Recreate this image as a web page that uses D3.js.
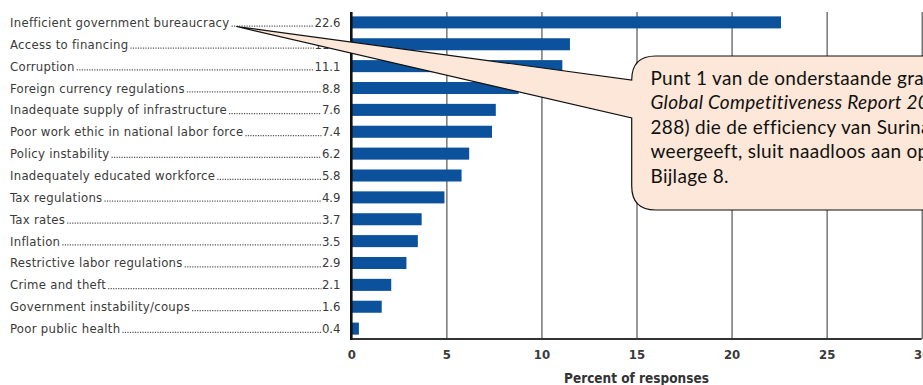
<!DOCTYPE html>
<html><head><meta charset="utf-8">
<script src="https://cdn.jsdelivr.net/npm/d3@7/dist/d3.min.js"></script>
<style>
html,body{margin:0;padding:0;background:#fff;}
svg{display:block;}
</style></head>
<body>
<svg id="chart" width="923" height="385"></svg>
<script>
const categories = [
  "Inefficient government bureaucracy",
  "Access to financing",
  "Corruption",
  "Foreign currency regulations",
  "Inadequate supply of infrastructure",
  "Poor work ethic in national labor force",
  "Policy instability",
  "Inadequately educated workforce",
  "Tax regulations",
  "Tax rates",
  "Inflation",
  "Restrictive labor regulations",
  "Crime and theft",
  "Government instability/coups",
  "Poor public health"
];
const values = [22.6, 11.5, 11.1, 8.8, 7.6, 7.4, 6.2, 5.8, 4.9, 3.7, 3.5, 2.9, 2.1, 1.6, 0.4];
const xTicks = [0, 5, 10, 15, 20, 25, 30];
const axisTitle = "Percent of responses";
const calloutLines = [
  {text: "Punt 1 van de onderstaande grafiek uit het", italic: false},
  {text: "Global Competitiveness Report 2012-2013 (p.", italic: true},
  {text: "288) die de efficiency van Suriname", italic: false},
  {text: "weergeeft, sluit naadloos aan op", italic: false},
  {text: "Bijlage 8.", italic: false}
];

const svg = d3.select("#chart");
const labelFont = "'Liberation Sans Narrow','DejaVu Sans Condensed','Roboto Condensed',sans-serif";

const x = d3.scaleLinear().domain([0, 30]).range([351.3, 921.7]);
const y = d3.scaleBand().domain(categories).range([12, 339]).paddingInner(0.45).paddingOuter(0.2);

// gridlines + tick labels
const axis = d3.axisBottom(x).tickValues(xTicks).tickSize(-(339 - 12)).tickFormat(d3.format("d"));
const gAxis = svg.append("g").attr("transform", "translate(0,339)").call(axis);
gAxis.select(".domain").remove();
gAxis.selectAll(".tick line").attr("stroke", "#555").attr("stroke-width", 1.2)
  .filter(d => d === 0).remove();
gAxis.selectAll(".tick text")
  .attr("y", 11).attr("dy", "0.71em")
  .attr("fill", "#3a3a3a")
  .style("font-family", labelFont).style("font-size", "13px").style("font-weight", "bold");

// bars
svg.append("g").selectAll("rect").data(values).join("rect")
  .attr("x", x(0))
  .attr("y", (d, i) => y(categories[i]))
  .attr("width", d => x(d) - x(0))
  .attr("height", y.bandwidth())
  .attr("fill", "#0b519c");

// axis lines
svg.append("line").attr("x1", x(0) - 0.5).attr("x2", x(30)).attr("y1", 339).attr("y2", 339)
  .attr("stroke", "#333").attr("stroke-width", 2);
svg.append("line").attr("x1", x(0)).attr("x2", x(0)).attr("y1", 12).attr("y2", 340)
  .attr("stroke", "#111").attr("stroke-width", 2.6);

// axis title
svg.append("text").attr("x", (x(0) + x(30)) / 2).attr("y", 383)
  .attr("text-anchor", "middle").attr("fill", "#333")
  .style("font-family", labelFont).style("font-size", "13.5px").style("font-weight", "bold")
  .text(axisTitle);

// labels with leader dots
const rows = svg.append("g").selectAll("g").data(categories).join("g")
  .attr("transform", d => `translate(0,${y(d) + y.bandwidth() / 2 + 4.5})`);
rows.append("text").attr("class", "lab").attr("x", 10)
  .attr("fill", "#3a3a3a")
  .style("font-family", labelFont).style("font-size", "13px").style("letter-spacing", "0.28px")
  .text(d => d);
rows.append("text").attr("class", "val").attr("x", 340.5).attr("text-anchor", "end")
  .attr("fill", "#3a3a3a")
  .style("font-family", labelFont).style("font-size", "13px")
  .text((d, i) => values[i].toFixed(1));
rows.each(function () {
  const g = d3.select(this);
  const lw = g.select(".lab").node().getComputedTextLength();
  const vw = g.select(".val").node().getComputedTextLength();
  g.insert("line", ".val").attr("x1", 10 + lw + 2).attr("x2", 340.5 - vw - 0.5)
    .attr("y1", -0.7).attr("y2", -0.7)
    .attr("stroke", "#555").attr("stroke-width", 1.2).attr("stroke-dasharray", "1.2 1.3");
});

// callout
const bx = 631.7, by = 56, bb = 210, r = 24, right = 1000;
const tip = [236.5, 26.5];
const path = d3.path();
path.moveTo(bx + r, by);
path.lineTo(right, by);
path.lineTo(right, bb);
path.lineTo(bx + r, bb);
path.quadraticCurveTo(bx, bb, bx, bb - r);
path.lineTo(bx, 118);
path.lineTo(tip[0], tip[1]);
path.lineTo(bx, by + r);
path.quadraticCurveTo(bx, by, bx + r, by);
path.closePath();
svg.append("path").attr("d", path.toString())
  .attr("fill", "#fce7d8").attr("stroke", "#111").attr("stroke-width", 1.2);

svg.append("g").selectAll("text").data(calloutLines).join("text")
  .attr("x", 650.5).attr("y", (d, i) => 84.5 + i * 24.5)
  .attr("fill", "#111")
  .style("font-family", "Lato, 'Open Sans', sans-serif").style("font-size", "19px")
  .style("letter-spacing", "0.3px")
  .style("font-style", d => d.italic ? "italic" : "normal")
  .text(d => d.text);
</script>
</body></html>
